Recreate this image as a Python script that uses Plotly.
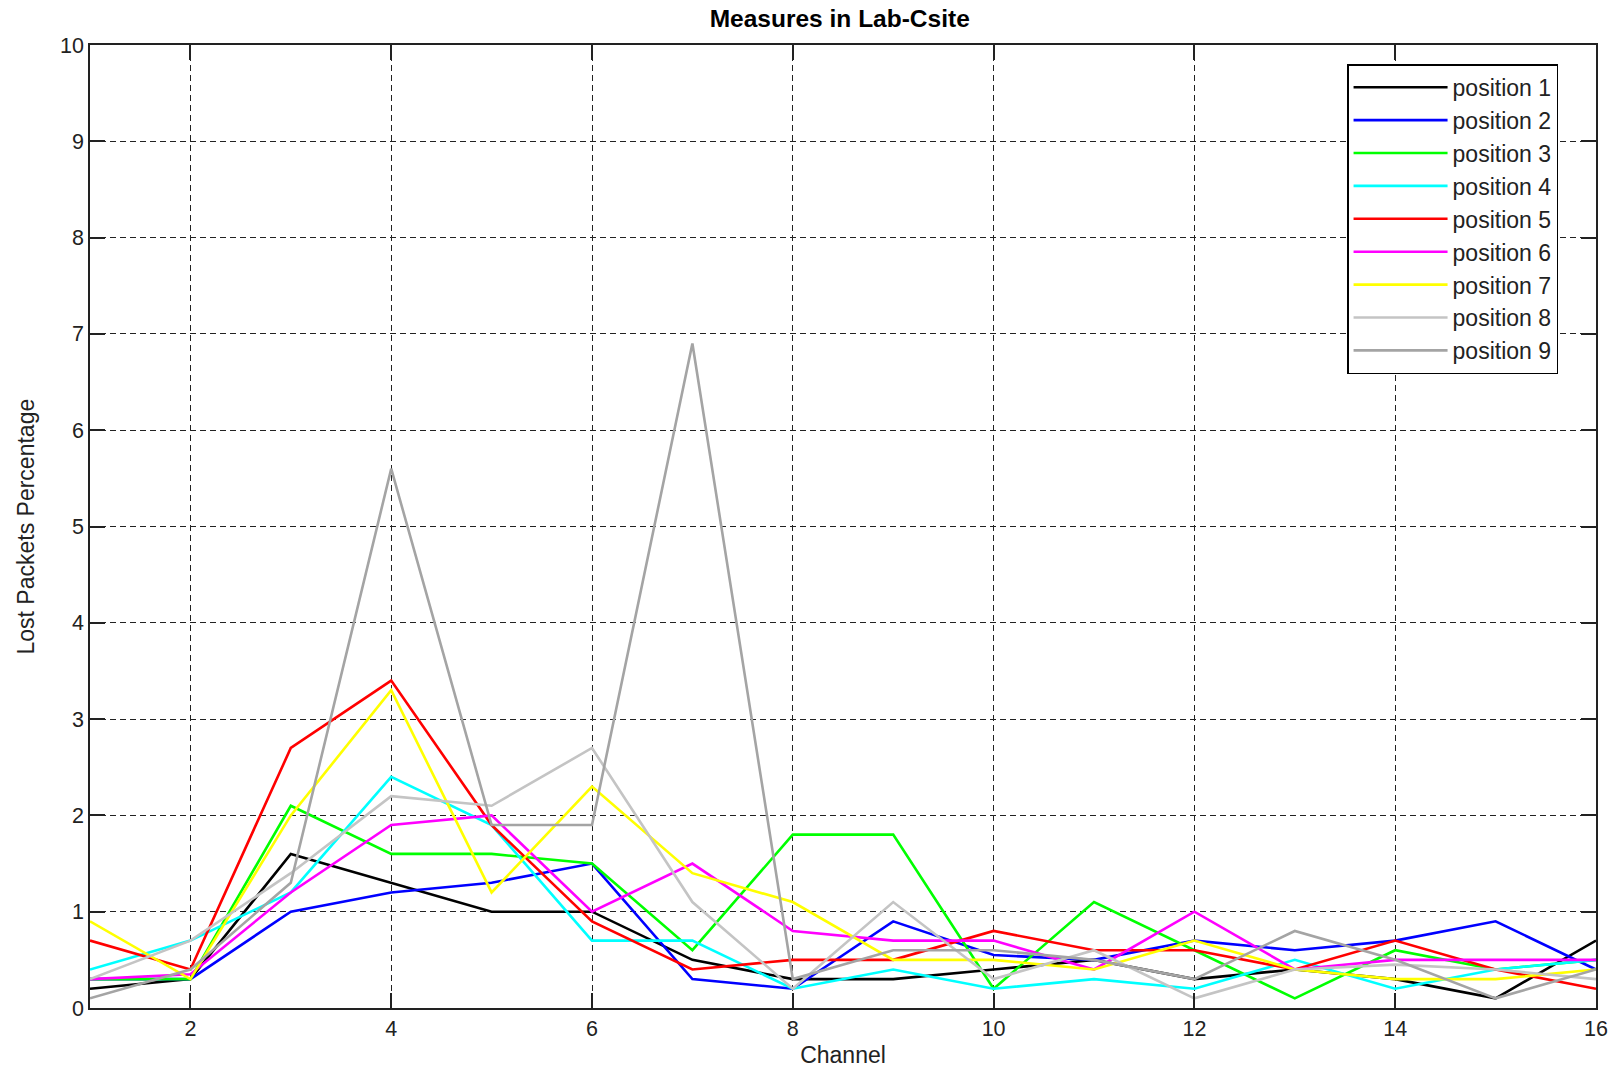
import plotly.graph_objects as go

# Channel numbers on the x axis
channels = list(range(1, 17))

# Lost packets percentage per measurement position
position_1 = [0.2, 0.3, 1.6, 1.3, 1.0, 1.0, 0.5, 0.3, 0.3, 0.4, 0.5, 0.3, 0.4, 0.3, 0.1, 0.7]
position_2 = [0.3, 0.3, 1.0, 1.2, 1.3, 1.5, 0.3, 0.2, 0.9, 0.55, 0.5, 0.7, 0.6, 0.7, 0.9, 0.4]
position_3 = [0.3, 0.3, 2.1, 1.6, 1.6, 1.5, 0.6, 1.8, 1.8, 0.2, 1.1, 0.6, 0.1, 0.6, 0.4, 0.5]
position_4 = [0.4, 0.7, 1.2, 2.4, 1.9, 0.7, 0.7, 0.2, 0.4, 0.2, 0.3, 0.2, 0.5, 0.2, 0.4, 0.5]
position_5 = [0.7, 0.4, 2.7, 3.4, 1.9, 0.9, 0.4, 0.5, 0.5, 0.8, 0.6, 0.6, 0.4, 0.7, 0.4, 0.2]
position_6 = [0.3, 0.35, 1.2, 1.9, 2.0, 1.0, 1.5, 0.8, 0.7, 0.7, 0.4, 1.0, 0.4, 0.5, 0.5, 0.5]
position_7 = [0.9, 0.3, 2.0, 3.3, 1.2, 2.3, 1.4, 1.1, 0.5, 0.5, 0.4, 0.7, 0.4, 0.3, 0.3, 0.4]
position_8 = [0.3, 0.7, 1.4, 2.2, 2.1, 2.7, 1.1, 0.2, 1.1, 0.3, 0.6, 0.1, 0.4, 0.45, 0.4, 0.3]
position_9 = [0.1, 0.4, 1.3, 5.6, 1.9, 1.9, 6.9, 0.3, 0.6, 0.6, 0.5, 0.3, 0.8, 0.5, 0.1, 0.4]

series_names = [f"position {i}" for i in range(1, 10)]
series_values = [position_1, position_2, position_3, position_4, position_5,
                 position_6, position_7, position_8, position_9]
series_colors = ["#000000", "#0000FF", "#00FF00", "#00FFFF", "#FF0000",
                 "#FF00FF", "#FFFF00", "#C4C4C4", "#A4A4A4"]

x_ticks = [2, 4, 6, 8, 10, 12, 14, 16]
y_ticks = list(range(0, 11))

FONT = "Liberation Sans, Arial, sans-serif"

fig = go.Figure()
for name, vals, col in zip(series_names, series_values, series_colors):
    fig.add_trace(go.Scatter(
        x=channels, y=vals, name=name, mode="lines",
        line=dict(color=col, width=2.6),
    ))

axis_common = dict(
    showline=True, linecolor="#222222", linewidth=1.6, automargin=False,
    mirror="ticks", ticks="inside", ticklen=15, tickwidth=1.6, tickcolor="#222222",
    showgrid=True, gridcolor="#222222", gridwidth=1.2, griddash="6px,4px",
    zeroline=False, tickfont=dict(family=FONT, size=21.5, color="#222222"),
)

fig.update_layout(
    width=1618, height=1068,
    margin=dict(l=90, r=22, t=45, b=60),
    paper_bgcolor="white", plot_bgcolor="white",
    title=dict(text="<b>Measures in Lab-Csite</b>", x=0.519, xanchor="center",
               y=0.983, yanchor="middle",
               font=dict(family=FONT, size=24.5, color="#000000")),
    xaxis=dict(range=[1, 16], tickvals=x_ticks,
               title=dict(text="Channel", standoff=19,
                          font=dict(family=FONT, size=23, color="#222222")),
               **axis_common),
    yaxis=dict(range=[0, 10], tickvals=y_ticks, **axis_common),
    legend=dict(x=0.8347, y=0.98, xanchor="left", yanchor="top",
                bgcolor="white", bordercolor="#000000", borderwidth=1.5,
                font=dict(family=FONT, size=23, color="#222222"),
                itemwidth=94, tracegroupgap=0),
    showlegend=True,
)

# Vertical axis caption, rotated beside the tick labels
fig.add_annotation(
    text="Lost Packets Percentage", textangle=-90,
    xref="paper", yref="paper", x=-0.0425, y=0.5,
    xanchor="center", yanchor="middle", showarrow=False,
    font=dict(family=FONT, size=23, color="#222222"),
)

fig.write_html("out.html")
